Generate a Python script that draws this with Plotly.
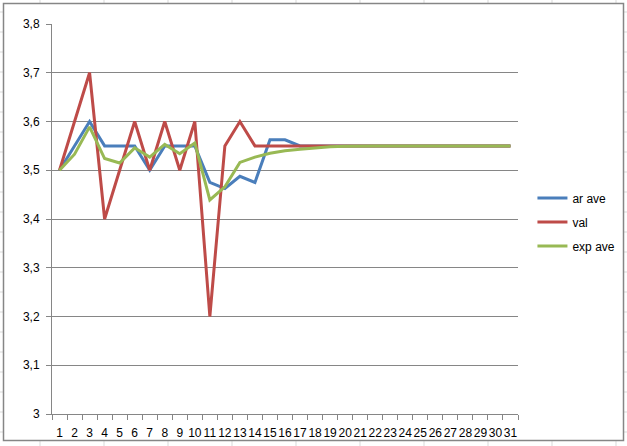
import plotly.graph_objects as go

# Dati (31 punti)
days = [str(i) for i in range(1, 32)]

ar_ave = [3.5, 3.55, 3.6, 3.55, 3.55, 3.55, 3.5, 3.55, 3.55, 3.55,
          3.475, 3.4625, 3.4875, 3.475, 3.5625, 3.5625, 3.55, 3.55, 3.55, 3.55,
          3.55, 3.55, 3.55, 3.55, 3.55, 3.55, 3.55, 3.55, 3.55, 3.55, 3.55]

val = [3.5, 3.6, 3.7, 3.4, 3.5, 3.6, 3.5, 3.6, 3.5, 3.6,
       3.2, 3.55, 3.6, 3.55, 3.55, 3.55, 3.55, 3.55, 3.55, 3.55,
       3.55, 3.55, 3.55, 3.55, 3.55, 3.55, 3.55, 3.55, 3.55, 3.55, 3.55]

exp_ave = [3.5, 3.533, 3.589, 3.524, 3.515, 3.546, 3.527, 3.553, 3.534, 3.556,
           3.439, 3.466, 3.516, 3.527, 3.535, 3.540, 3.543, 3.546, 3.548, 3.549,
           3.55, 3.55, 3.55, 3.55, 3.55, 3.55, 3.55, 3.55, 3.55, 3.55, 3.55]

_BLUE = "#4A7EBB"
_RED = "#BE4B48"
_GREEN = "#98B954"
_GRID = "#868686"
_FONT = "Liberation Sans"

fig = go.Figure()
for name, ys, color in [("ar ave", ar_ave, _BLUE), ("val", val, _RED), ("exp ave", exp_ave, _GREEN)]:
    fig.add_trace(
        go.Scatter(
            x=days,
            y=ys,
            mode="lines",
            name=name,
            legendgroup=name,
            line=dict(color=color, width=3),
        )
    )

# Bordo dell'area grafico (stile Excel) e righe del foglio all'esterno
pw, ph = 466.0, 390.0
def px(x):
    return (x - 52) / pw
def py(y):
    return (414 - y) / ph

shapes = []
for xc in range(40, 627, 64):
    shapes.append(dict(type="line", xref="paper", yref="paper", x0=px(xc), x1=px(xc),
                       y0=py(0), y1=py(3), line=dict(color="#D9D9D9", width=1)))
    shapes.append(dict(type="line", xref="paper", yref="paper", x0=px(xc), x1=px(xc),
                       y0=py(441), y1=py(446), line=dict(color="#D9D9D9", width=1)))
for yc in range(12, 446, 20):
    shapes.append(dict(type="line", xref="paper", yref="paper", x0=px(0), x1=px(3),
                       y0=py(yc), y1=py(yc), line=dict(color="#D9D9D9", width=1)))
    shapes.append(dict(type="line", xref="paper", yref="paper", x0=px(624), x1=px(627),
                       y0=py(yc), y1=py(yc), line=dict(color="#D9D9D9", width=1)))
shapes.append(dict(type="rect", xref="paper", yref="paper", x0=px(3.5), x1=px(623.5),
                   y0=py(440.5), y1=py(3.5), line=dict(color=_GRID, width=1.5),
                   fillcolor="rgba(0,0,0,0)", layer="above"))

fig.update_layout(
    width=627,
    height=446,
    margin=dict(l=52, r=109, t=24, b=32, autoexpand=False),
    paper_bgcolor="white",
    plot_bgcolor="white",
    separators=",.",
    font=dict(family=_FONT, size=12, color="black"),
    showlegend=True,
    legend=dict(
        x=1.031,
        y=0.492,
        xanchor="left",
        yanchor="middle",
        tracegroupgap=5,
        font=dict(family=_FONT, size=12),
    ),
    xaxis=dict(
        type="category",
        tickmode="linear",
        dtick=1,
        tickangle=0,
        tickson="boundaries",
        ticks="outside",
        ticklen=5,
        tickcolor=_GRID,
        showline=True,
        linecolor=_GRID,
        linewidth=1,
        showgrid=False,
        zeroline=False,
        range=[-0.5, 30.5],
        tickfont=dict(size=12),
        ticklabelstandoff=8,
    ),
    yaxis=dict(
        range=[3, 3.8],
        dtick=0.1,
        tick0=3,
        ticks="outside",
        ticklen=5,
        tickcolor=_GRID,
        showline=True,
        linecolor=_GRID,
        linewidth=1,
        showgrid=True,
        gridcolor=_GRID,
        gridwidth=1,
        zeroline=False,
        ticklabelstandoff=4,
    ),
    shapes=shapes,
)

fig.write_html(
    "out.html",
    config={"displayModeBar": False},
    post_script="document.body.style.margin='0';",
)
